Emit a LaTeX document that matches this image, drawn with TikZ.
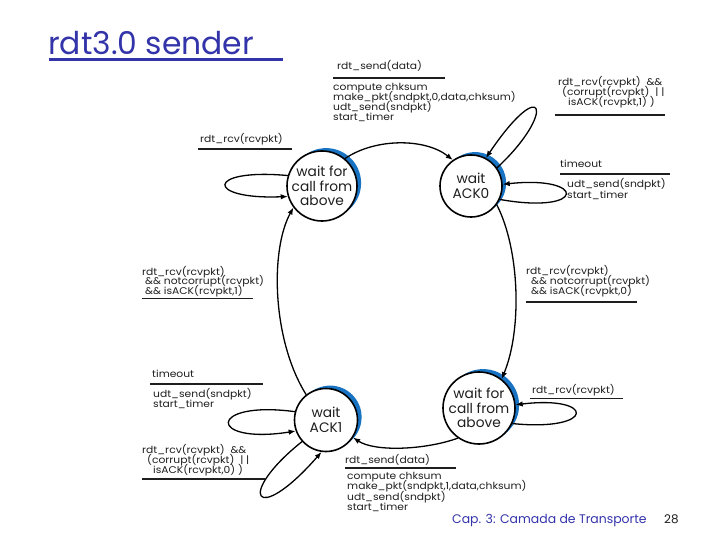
\documentclass[tikz,border=0pt]{standalone}
\usepackage{fontspec}
\setmainfont{Poppins}
\newfontfamily\lblfont{Poppins}[FakeStretch=1.1]
\usetikzlibrary{arrows.meta}
\definecolor{titleblue}{RGB}{51,51,170}
\definecolor{crescent}{RGB}{25,115,195}
\definecolor{ink}{RGB}{30,30,30}
\begin{document}
\begin{tikzpicture}[x=1bp,y=-1bp,
  state/.style={circle,draw=black,line width=1.6bp,fill=white,inner sep=0pt},
  stext/.style={align=center,inner sep=0pt,font=\fontsize{13.8}{14.8}\selectfont,text=ink},
  lbl/.style={anchor=base west,inner sep=0pt,font=\lblfont\fontsize{9.8}{10}\selectfont,text=ink},
  rule/.style={line width=1.6bp,draw=ink},
  edge/.style={line width=1.3bp,draw=black,-{Latex[length=7bp,width=5.5bp]}}
]
\useasboundingbox (0,0) rectangle (720,540);

% title
\node[anchor=base west,inner sep=0pt,font=\fontsize{31.5}{31.5}\selectfont,text=titleblue] (title) at (48,55) {rdt3.0 sender};
\draw[titleblue,line width=3bp] (49,60) -- (283,60);

% blue crescents
\fill[crescent] (326.1,183.1) circle[radius=35];
\fill[crescent] (475.1,183.1) circle[radius=31];
\fill[crescent] (330.1,417.1) circle[radius=31.5];
\fill[crescent] (483.1,405.1) circle[radius=36];

% states
\node[state,minimum size=70bp] (s1) at (322,186) {};
\node[state,minimum size=62bp] (s2) at (471,186) {};
\node[state,minimum size=63bp] (s3) at (326,420) {};
\node[state,minimum size=72bp] (s4) at (479,408) {};
\node[stext] (s1t) at (s1) {wait for\\call from\\above};
\node[stext] (s2t) at (s2) {wait\\ACK0};
\node[stext] (s3t) at (s3) {wait\\ACK1};
\node[stext] (s4t) at (s4) {wait for\\call from\\above};

% edges
\draw[edge] (s1.50) .. controls (375,138) and (425,138) .. (s2.125);
\draw[edge] (s1.163) .. controls (205,168) and (205,200) .. (s1.197);
\draw[edge] (s3.128) .. controls (272,340) and (270,250) .. (s1.217);
\draw[edge] (s2.-36) .. controls (520,250) and (522,330) .. (s4.52);
\draw[edge] (s2.-25) .. controls (587,215) and (587,175) .. (s2.3);
\draw[edge] (s2.35) .. controls (557,112) and (544,72) .. (s2.62);
\draw[edge] (s4.-125) .. controls (425,450) and (375,452) .. (s3.-33);
\draw[edge] (s4.-25) .. controls (596,432) and (596,395) .. (s4.5);
\draw[edge] (s3.165) .. controls (207,400) and (207,445) .. (s3.200);
\draw[edge] (s3.222) .. controls (235,495) and (255,528) .. (s3.262);

% label A (top)
\node[lbl] (a1) at (337,70) {rdt\_send(data)};
\draw[rule] (333,78) -- (445,78);
\node[lbl] (a2) at (333,91) {compute chksum};
\node[lbl] (a3) at (333,101) {make\_pkt(sndpkt,0,data,chksum)};
\node[lbl] (a4) at (333,111) {udt\_send(sndpkt)};
\node[lbl] (a5) at (333,121) {start\_timer};

% label B (top right)
\node[lbl] (b1) at (558,86) {rdt\_rcv(rcvpkt)\ \ \&\&};
\node[lbl] (b2) at (562,96) {(corrupt(rcvpkt)\ \ | |};
\node[lbl] (b3) at (568,106) {isACK(rcvpkt,1) )};
\draw[rule] (555,115) -- (665,115);

% label C
\node[lbl] (c1) at (200,143) {rdt\_rcv(rcvpkt)};
\draw[rule] (198,149) -- (292,149);

% label D
\node[lbl] (d1) at (560,168) {timeout};
\draw[rule] (560,174) -- (670,174);
\node[lbl] (d2) at (567,188) {udt\_send(sndpkt)};
\node[lbl] (d3) at (567,198.5) {start\_timer};

% label E
\node[lbl] (e1) at (142,275.5) {rdt\_rcv(rcvpkt)};
\node[lbl] (e2) at (145,285) {\&\& notcorrupt(rcvpkt)};
\node[lbl] (e3) at (145,294.5) {\&\& isACK(rcvpkt,1)};
\draw[rule] (142,298.5) -- (253,298.5);

% label F
\node[lbl] (f1) at (526,275) {rdt\_rcv(rcvpkt)};
\node[lbl] (f2) at (531,284.5) {\&\& notcorrupt(rcvpkt)};
\node[lbl] (f3) at (531,294) {\&\& isACK(rcvpkt,0)};
\draw[rule] (526,302) -- (637,302);

% label G
\node[lbl] (g1) at (152,377) {timeout};
\draw[rule] (150,384) -- (263,384);
\node[lbl] (g2) at (153,397) {udt\_send(sndpkt)};
\node[lbl] (g3) at (153,407.5) {start\_timer};

% label H
\node[lbl] (h1) at (532,393) {rdt\_rcv(rcvpkt)};
\draw[rule] (530,398.5) -- (623,398.5);

% label I
\node[lbl] (i1) at (142,453) {rdt\_rcv(rcvpkt)\ \ \&\&};
\node[lbl] (i2) at (147,463) {(corrupt(rcvpkt)\ \ | |};
\node[lbl] (i3) at (153,473) {isACK(rcvpkt,0) )};
\draw[rule] (142,479) -- (265,479);

% label J (bottom)
\node[lbl] (j1) at (345,463) {rdt\_send(data)};
\draw[rule] (345,468) -- (456,468);
\node[lbl] (j2) at (347,479) {compute chksum};
\node[lbl] (j3) at (347,489.5) {make\_pkt(sndpkt,1,data,chksum)};
\node[lbl] (j4) at (347,500) {udt\_send(sndpkt)};
\node[lbl] (j5) at (347,510.5) {start\_timer};

% footer
\node[anchor=base west,inner sep=0pt,font=\fontsize{12.5}{13}\selectfont,text=titleblue] (cap) at (452,523) {Cap. 3: Camada de Transporte};
\node[anchor=base west,inner sep=0pt,font=\fontsize{12}{13}\selectfont,text=ink] (pg) at (664,523) {28};
\end{tikzpicture}
\end{document}
